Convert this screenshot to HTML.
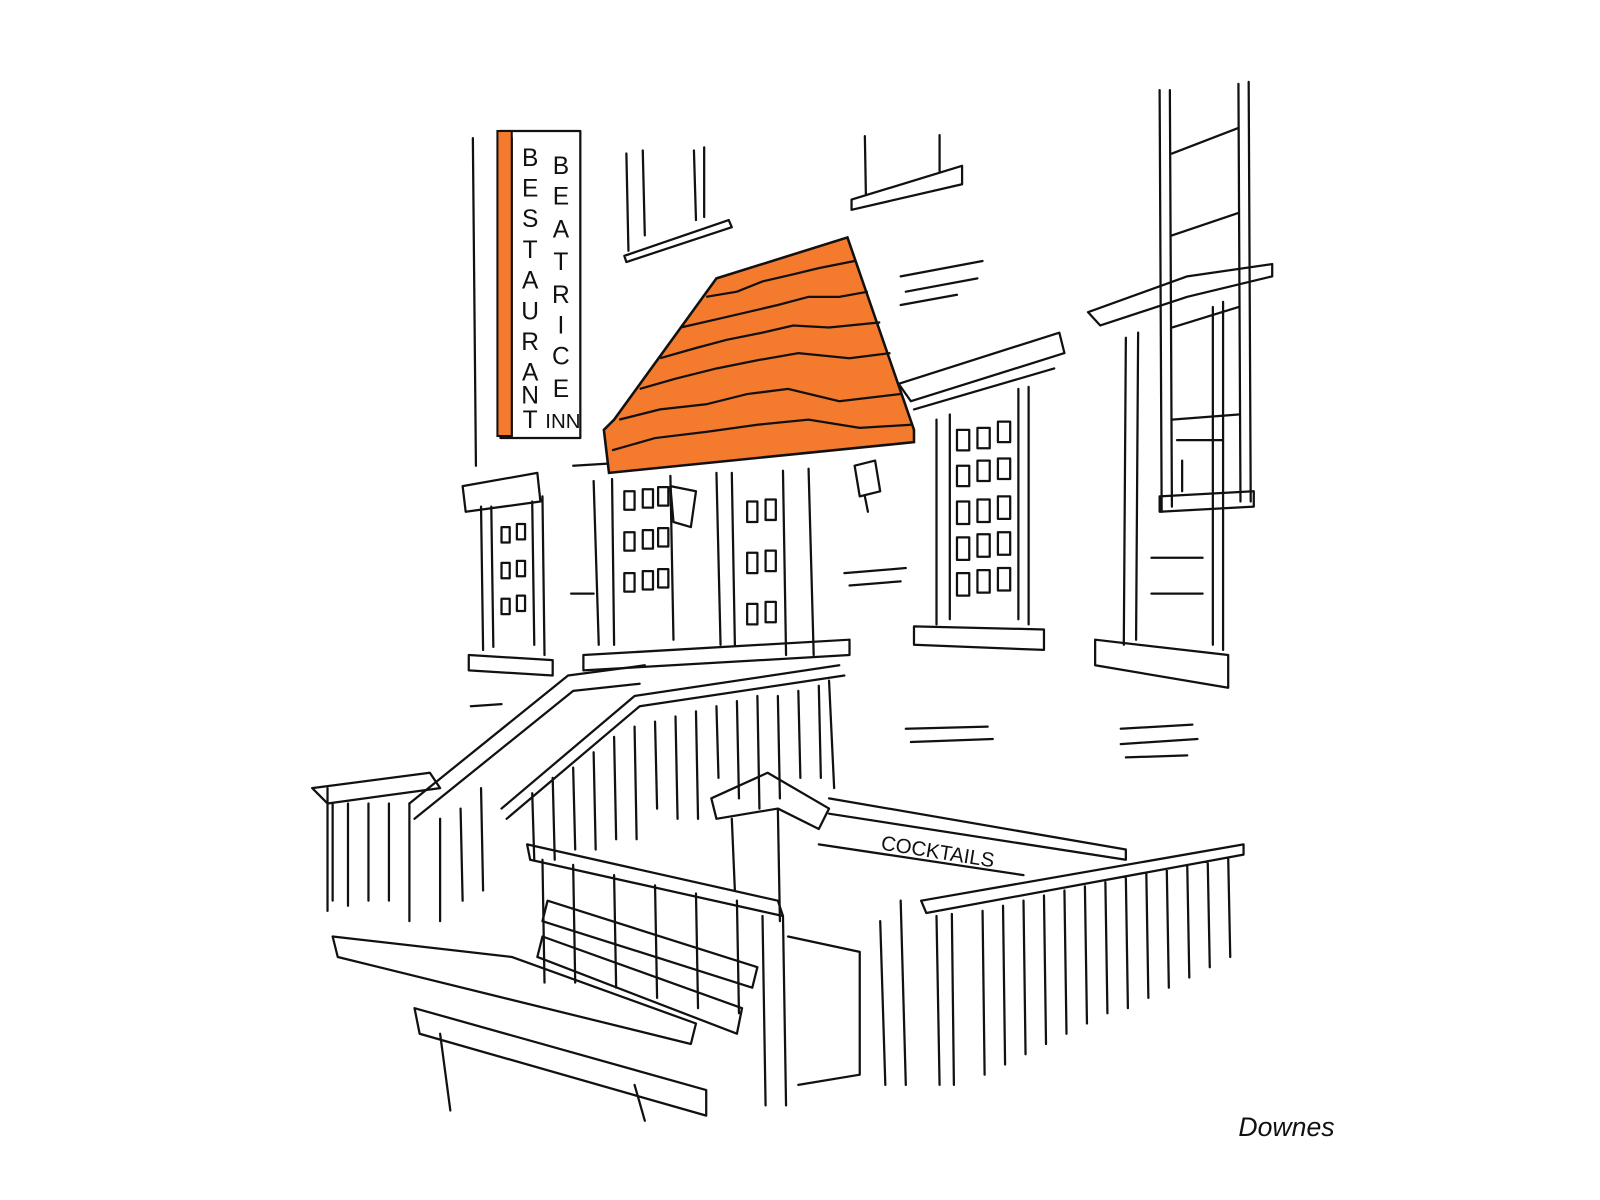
<!DOCTYPE html>
<html><head><meta charset="utf-8"><style>
html,body{margin:0;padding:0;background:#fff;width:1600px;height:1200px;overflow:hidden}
svg{display:block}
text{font-family:"Liberation Sans",sans-serif}
</style></head><body>
<svg width="1600" height="1200" viewBox="0 0 1600 1200" xmlns="http://www.w3.org/2000/svg">
<g transform="scale(1.0235)">
<g fill="none" stroke="#111" stroke-width="2.2" stroke-linecap="round" stroke-linejoin="round">
<path d="M462 135 L465 455"/>
<rect x="489" y="128" width="78" height="300" fill="#fff"/>
<path d="M489 128 L500 135 L500 426"/>
<path d="M612 150 L614 245 M628 147 L630 230 M678 147 L680 215 M688 144 L688 212 M610 250 L712 215 L715 222 L612 256 Z"/>
<path d="M845 133 L846 190 M918 132 L918 168 M832 195 L940 162 L940 180 L832 205 Z"/>
<path d="M880 270 L960 255 M885 285 L955 272 M880 298 L935 288"/>
<path d="M825 560 L885 555 M830 572 L880 568 M885 712 L965 710 M890 725 L970 722 M1095 712 L1165 708 M1095 727 L1170 722 M1100 740 L1160 738 M558 580 L580 580 M460 690 L490 688"/>
<path d="M1133 88 L1135 500 M1143 88 L1145 495 M1210 82 L1212 490 M1220 80 L1222 490"/>
<path d="M1145 150 L1210 125 M1145 230 L1210 208 M1145 320 L1210 300 M1145 410 L1210 405 M1133 485 L1225 480 L1225 495 L1133 500 Z"/>
<path d="M1063 305 L1160 270 L1243 258 L1243 270 L1160 290 L1075 318 Z M1100 330 L1098 630 M1112 325 L1110 625 M1185 300 L1185 630 M1195 295 L1195 635 M1070 625 L1200 640 L1200 672 L1070 650 Z"/>
<path d="M1125 545 L1175 545 M1125 580 L1175 580 M1150 430 L1195 430 M1155 450 L1155 480"/>
<path d="M878 375 L1035 325 L1040 345 L890 392 Z M893 400 L1030 360 M915 410 L915 610 M928 405 L928 605 M995 380 L995 605 M1005 378 L1005 610 M893 612 L1020 615 L1020 635 L893 630 Z"/>
<path d="M935 420 h12 v20 h-12z M955 418 h12 v20 h-12z M975 412 h12 v20 h-12z M935 455 h12 v20 h-12z M955 450 h12 v20 h-12z M975 448 h12 v20 h-12z M935 490 h12 v22 h-12z M955 488 h12 v22 h-12z M975 485 h12 v22 h-12z M935 525 h12 v22 h-12z M955 522 h12 v22 h-12z M975 520 h12 v22 h-12z M935 560 h12 v22 h-12z M955 557 h12 v22 h-12z M975 555 h12 v22 h-12z"/>
<path d="M452 475 L525 462 L528 490 L455 500 Z M470 495 L472 635 M480 495 L482 632 M520 490 L522 630 M530 485 L532 640 M458 640 L540 645 L540 660 L458 655 Z"/>
<path d="M490 515 h8 v15 h-8z M505 512 h8 v15 h-8z M490 550 h8 v15 h-8z M505 548 h8 v15 h-8z M490 585 h8 v15 h-8z M505 582 h8 v15 h-8z"/>
<path d="M560 455 L805 440 M580 470 L585 630 M598 468 L600 630 M655 465 L658 625 M700 462 L704 630 M715 462 L718 630 M765 460 L768 640 M790 458 L795 640"/>
<path d="M610 480 h10 v18 h-10z M628 478 h10 v18 h-10z M643 476 h10 v18 h-10z M610 520 h10 v18 h-10z M628 518 h10 v18 h-10z M643 516 h10 v18 h-10z M610 560 h10 v18 h-10z M628 558 h10 v18 h-10z M643 556 h10 v18 h-10z M730 490 h10 v20 h-10z M748 488 h10 v20 h-10z M730 540 h10 v20 h-10z M748 538 h10 v20 h-10z M730 590 h10 v20 h-10z M748 588 h10 v20 h-10z"/>
<path d="M570 640 L830 625 L830 640 L570 655 Z"/>
<path d="M835 455 L855 450 L860 480 L840 485 Z M845 485 L848 500"/>
<path d="M655 475 L680 480 L675 515 L658 510 Z"/>
<path d="M400 785 L555 660 L630 650 M405 800 L560 675 L625 668 M490 790 L620 680 L820 650 M495 800 L625 690 L825 660"/>
<path d="M305 770 L420 755 L430 770 L320 785 Z M325 785 L325 880 M340 785 L340 885 M360 785 L360 880 M380 785 L380 880 M400 785 L400 900 M430 800 L430 900 M450 790 L452 880 M470 770 L472 870"/>
<path d="M810 665 L815 770 M800 670 L802 760 M780 675 L782 760 M760 680 L762 780 M740 680 L742 790 M720 685 L722 780 M700 690 L702 760 M680 695 L682 800 M660 700 L662 800 M640 705 L642 790 M620 710 L622 820 M600 720 L602 820 M580 735 L582 830 M560 750 L562 830 M540 760 L542 840 M520 775 L522 840"/>
<path d="M695 780 L750 755 L810 790 L800 810 L760 790 L700 800 Z M715 800 L718 870 M760 790 L762 900"/>
<path d="M810 780 L1100 830 L1100 840 L810 795 M800 825 L1000 855"/>
<path d="M900 880 L1215 825 L1215 835 L905 892 Z M915 895 L918 1060 M930 893 L932 1060 M960 890 L962 1050 M980 885 L982 1040 M1000 880 L1002 1030 M1020 875 L1022 1020 M1040 870 L1042 1010 M1060 866 L1062 1000 M1080 862 L1082 990 M1100 858 L1102 985 M1120 853 L1122 975 M1140 850 L1142 965 M1160 846 L1162 955 M1180 842 L1182 945 M1200 838 L1202 935"/>
<path d="M515 825 L760 880 L765 895 L518 840 Z M530 840 L532 960 M560 845 L562 960 M600 855 L602 965 M640 865 L642 975 M680 873 L682 985 M720 880 L722 990 M745 895 L748 1080 M765 895 L768 1080"/>
<path d="M770 915 L840 930 L840 1050 L780 1060 M860 900 L865 1060 M880 880 L885 1060"/>
<path d="M535 880 L740 945 L735 965 L530 900 Z M530 915 L725 985 L720 1010 L525 935 Z"/>
<path d="M325 915 L500 935 L680 1000 L675 1020 L330 935 Z M405 985 L690 1065 L690 1090 L410 1010 Z M430 1010 L440 1085 M620 1060 L630 1095"/>
<path d="M320 770 L320 890"/>
</g>
<rect x="486" y="128" width="14" height="298" fill="#f47a2e" stroke="#111" stroke-width="2"/>
<path d="M700 272 L828 232 L893 420 L893 432 L595 462 L590 420 L600 410 Z" fill="#f47a2e" stroke="#111" stroke-width="2.5"/>
<g fill="none" stroke="#111" stroke-width="2.2">
<path d="M690 290 L720 285 L745 275 L775 268 L800 262 L835 255"/>
<path d="M665 320 L700 312 L730 305 L760 298 L790 290 L820 290 L848 285"/>
<path d="M645 350 L680 340 L710 332 L745 325 L775 318 L810 320 L860 315"/>
<path d="M625 380 L660 370 L700 360 L740 352 L780 345 L830 350 L870 345"/>
<path d="M605 410 L645 400 L690 395 L730 385 L770 380 L820 392 L880 385"/>
<path d="M598 440 L640 428 L690 422 L740 415 L790 410 L840 418 L890 415"/>
</g>
<g font-size="24" fill="#111" text-anchor="middle">
<text x="518" y="162">B</text><text x="518" y="192">E</text><text x="518" y="222">S</text><text x="518" y="252">T</text><text x="518" y="282">A</text><text x="518" y="312">U</text><text x="518" y="342">R</text><text x="518" y="372">A</text><text x="518" y="394">N</text><text x="518" y="418">T</text>
<text x="548" y="170">B</text><text x="548" y="200">E</text><text x="548" y="232">A</text><text x="548" y="264">T</text><text x="548" y="296">R</text><text x="548" y="326">I</text><text x="548" y="356">C</text><text x="548" y="388">E</text>
<text x="550" y="418" font-size="20">INN</text>
</g>
<text x="860" y="830" font-size="20" fill="#111" transform="rotate(9 860 830)">COCKTAILS</text>
<text x="1210" y="1110" font-size="26" font-style="italic" fill="#111" font-family="Liberation Serif">Downes</text>
</g>
</svg>
</body></html>
